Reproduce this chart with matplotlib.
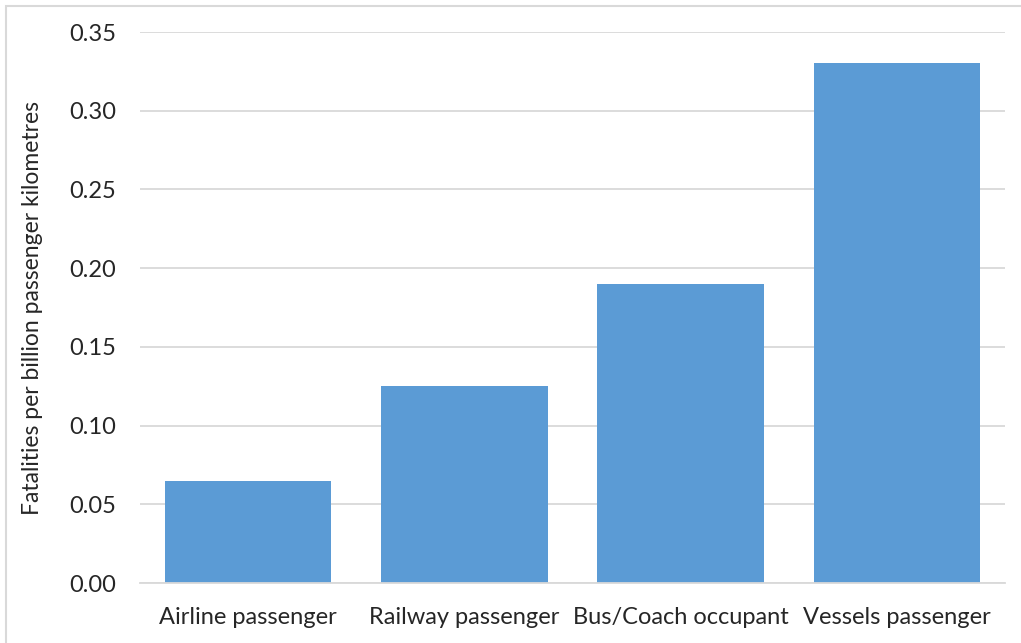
import matplotlib
matplotlib.use('Agg')
import matplotlib.pyplot as plt
from matplotlib.patches import Rectangle

plt.rcParams['font.family'] = ['Lato', 'DejaVu Sans']

categories = ['Airline passenger', 'Railway passenger', 'Bus/Coach occupant', 'Vessels passenger']
fatalities = [0.065, 0.125, 0.19, 0.33]
yticks = [0.00, 0.05, 0.10, 0.15, 0.20, 0.25, 0.30, 0.35]

W, H = 1021, 643
fig = plt.figure(figsize=(W / 100, H / 100), dpi=100)
ax = fig.add_axes([140 / W, (H - 583) / H, 865 / W, 551 / H])

ax.bar(range(len(categories)), fatalities, width=0.77, color='#5b9bd5', zorder=2)

ax.set_xlim(-0.5, len(categories) - 0.5)
ax.set_ylim(0, 0.35)
ax.set_yticks(yticks)
ax.set_yticklabels([f'{v:.2f}' for v in yticks])
ax.set_xticks(range(len(categories)))
ax.set_xticklabels(categories)
ax.tick_params(axis='both', length=0, labelsize=17, colors='#262626')
ax.tick_params(axis='y', pad=17)
ax.tick_params(axis='x', pad=17)

ax.grid(axis='y', color='#d9d9d9', linewidth=1.3, zorder=0)
for side in ['top', 'right', 'left']:
    ax.spines[side].set_visible(False)
ax.spines['bottom'].set_color('#d9d9d9')
ax.spines['bottom'].set_linewidth(1.3)

fig.text(33 / W, (H - 308) / H, 'Fatalities per billion passenger kilometres',
         rotation=90, ha='center', va='center', fontsize=16.5, color='#262626')

# chart frame
fig.patches.append(Rectangle((6 / W, -0.1), 1.2, (H - 6) / H + 0.1,
                             transform=fig.transFigure, fill=False,
                             edgecolor='#d9d9d9', linewidth=1.5, clip_on=False))

fig.savefig('out.png', dpi=100)
